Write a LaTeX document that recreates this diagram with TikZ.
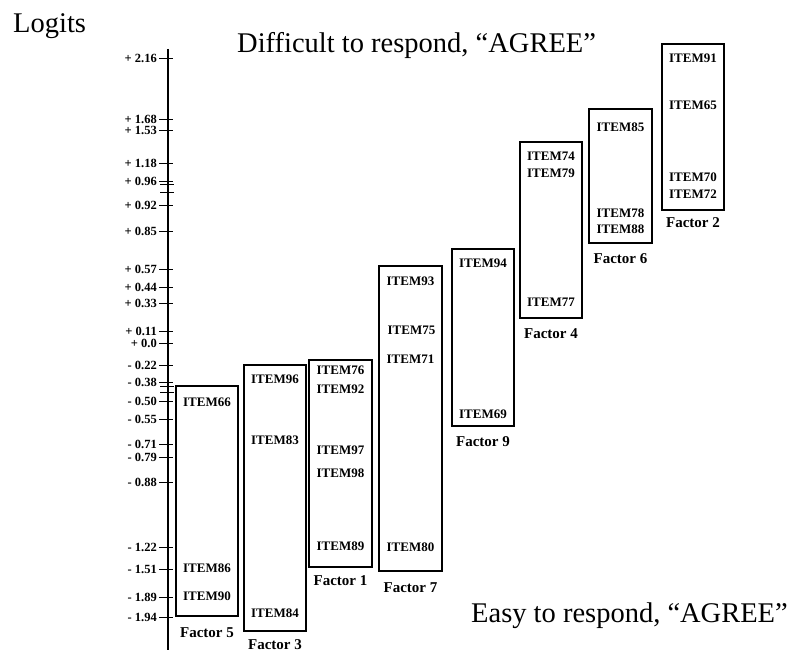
\documentclass[tikz,border=0pt]{standalone}
\usepackage{fontspec}
\setmainfont{Liberation Serif}
\begin{document}
\begin{tikzpicture}[x=1pt,y=-1pt,
  itembox/.style={draw,line width=1.1pt},
  itemlbl/.style={font=\fontsize{13}{13}\selectfont\bfseries,inner sep=0pt,anchor=center},
  factorlbl/.style={font=\fontsize{15}{15}\selectfont\bfseries,inner sep=0pt,anchor=center},
  ticklbl/.style={font=\fontsize{12.5}{12.5}\selectfont\bfseries,anchor=east,inner sep=0pt},
  bigtext/.style={font=\fontsize{28.5}{28.5}\selectfont,anchor=base west,inner sep=0pt},
  tickline/.style={line width=0.9pt},
  axisline/.style={line width=1.1pt}]
\useasboundingbox (0,0) rectangle (790,652);

% titles
\node[bigtext] (logits) at (13,33) {Logits};
\node[bigtext] (difficult) at (237,53) {Difficult to respond, “AGREE”};
\node[bigtext] (easy) at (471,622) {Easy to respond, “AGREE”};

% axis
\coordinate (axtop) at (168,49);
\coordinate (axbot) at (168,650);
\draw[axisline] (axtop) -- (axbot);

% ticks with labels
\foreach \yy/\lab [count=\i] in {58/{+ 2.16},119/{+ 1.68},130/{+ 1.53},163/{+ 1.18},181/{+ 0.96},
  205/{+ 0.92},231/{+ 0.85},269/{+ 0.57},287/{+ 0.44},303/{+ 0.33},331/{+ 0.11},343/{+ 0.0},
  365/{- 0.22},382/{- 0.38},401/{- 0.50},419/{- 0.55},444/{- 0.71},457/{- 0.79},482/{- 0.88},
  547/{- 1.22},569/{- 1.51},597/{- 1.89},617/{- 1.94}}{
  \coordinate (tl\i) at (159,\yy);
  \coordinate (tr\i) at (173,\yy);
  \draw[tickline] (tl\i) -- (tr\i);
  \node[ticklbl] (tick\i) at (157,\yy) {\lab};
}
% extra unlabeled ticks
\foreach \yy [count=\i] in {184.5,192,386.5,392}{
  \coordinate (xl\i) at (160,\yy);
  \coordinate (xr\i) at (174,\yy);
  \draw[tickline] (xl\i) -- (xr\i);
}

% factor boxes
\foreach \nm/\xa/\ya/\xb/\yb/\lab/\ly in {
  f5/176/386/238/616/{Factor 5}/633,
  f3/244/365/306/631/{Factor 3}/645,
  f1/309/360/372/567/{Factor 1}/581,
  f7/379/266/442/571/{Factor 7}/588,
  f9/452/249/514/426/{Factor 9}/442,
  f4/520/142/582/318/{Factor 4}/334,
  f6/589/109/652/243/{Factor 6}/259,
  f2/662/44/724/210/{Factor 2}/223}{
  \draw[itembox] (\xa,\ya) rectangle (\xb,\yb);
  \node[factorlbl] (\nm lab) at ({(\xa+\xb)/2},\ly) {\lab};
}

% item labels
\foreach \xx/\yy/\it in {
  207/402/66, 207/568/86, 207/596/90,
  275/379/96, 275/440/83, 275/613/84,
  340.5/370/76, 340.5/389/92, 340.5/450/97, 340.5/473/98, 340.5/546/89,
  410.5/281/93, 411.5/330/75, 410.5/359/71, 410.5/547/80,
  483/263/94, 483/414/69,
  551/156/74, 551/173/79, 551/302/77,
  620.5/127/85, 620.5/213/78, 620.5/229/88,
  693/58/91, 693/105/65, 693/177/70, 693/194/72}{
  \node[itemlbl] (item\it) at (\xx,\yy) {ITEM\it};
}
\end{tikzpicture}
\end{document}
